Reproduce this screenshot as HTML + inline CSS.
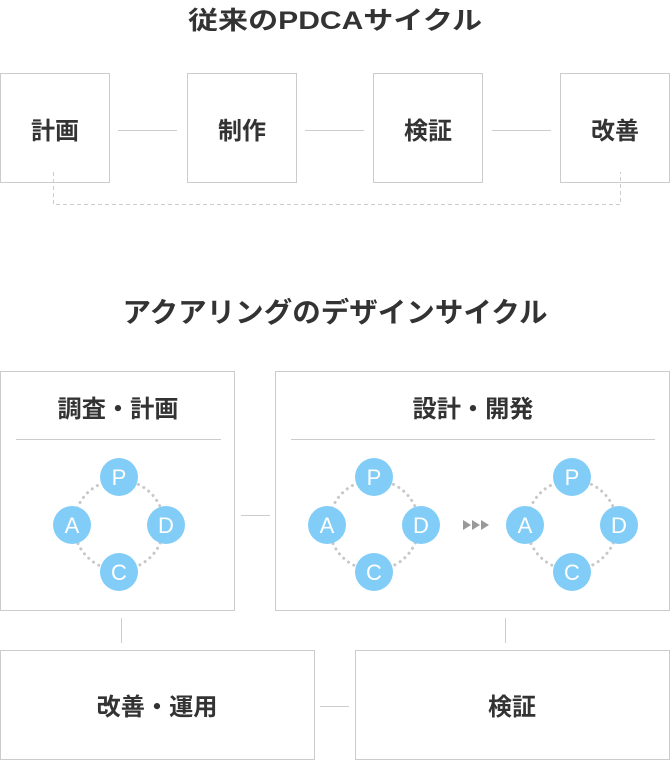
<!DOCTYPE html>
<html><head><meta charset="utf-8"><style>
html,body{margin:0;padding:0;background:#fff;}
svg{display:block;}
text{font-family:"Liberation Sans","Noto Sans CJK JP",sans-serif;font-weight:bold;fill:#333;}
.c{fill:#fff;font-weight:normal;font-size:22px;}
</style></head><body>
<svg width="670" height="760" viewBox="0 0 670 760" xmlns="http://www.w3.org/2000/svg">
<text x="335" y="29" font-size="25" text-anchor="middle" textLength="294" lengthAdjust="spacingAndGlyphs">従来のPDCAサイクル</text>
<g fill="#fff" stroke="#ccc" stroke-width="1">
<rect x="0.5" y="73.5" width="109" height="109"/>
<rect x="187.5" y="73.5" width="109" height="109"/>
<rect x="373.5" y="73.5" width="109" height="109"/>
<rect x="560.5" y="73.5" width="109" height="109"/>
</g>
<g stroke="#ccc" stroke-width="1">
<line x1="118" y1="130.5" x2="177" y2="130.5"/>
<line x1="305" y1="130.5" x2="364" y2="130.5"/>
<line x1="492" y1="130.5" x2="551" y2="130.5"/>
</g>
<path d="M53.5 172 V204.5 H620.5 V172" fill="none" stroke="#ccc" stroke-dasharray="4,3"/>
<g font-size="24" text-anchor="middle">
<text x="55" y="139">計画</text>
<text x="242" y="139">制作</text>
<text x="428" y="139">検証</text>
<text x="615" y="139">改善</text>
</g>
<text x="335" y="322" font-size="28" text-anchor="middle" textLength="425" lengthAdjust="spacingAndGlyphs">アクアリングのデザインサイクル</text>
<g fill="#fff" stroke="#ccc" stroke-width="1">
<rect x="0.5" y="371.5" width="234" height="239"/>
<rect x="275.5" y="371.5" width="394" height="239"/>
<rect x="0.5" y="650.5" width="314" height="109"/>
<rect x="355.5" y="650.5" width="314" height="109"/>
</g>
<g stroke="#ccc" stroke-width="1">
<line x1="16" y1="439.5" x2="221" y2="439.5"/>
<line x1="291" y1="439.5" x2="655" y2="439.5"/>
<line x1="241" y1="515.5" x2="270" y2="515.5"/>
<line x1="121.5" y1="618" x2="121.5" y2="643"/>
<line x1="505.5" y1="618" x2="505.5" y2="643"/>
<line x1="320" y1="706.5" x2="349" y2="706.5"/>
</g>
<g font-size="24" text-anchor="middle">
<text x="118" y="417" textLength="121" lengthAdjust="spacingAndGlyphs">調査・計画</text>
<text x="473" y="417" textLength="121" lengthAdjust="spacingAndGlyphs">設計・開発</text>
<text x="157" y="715" textLength="121" lengthAdjust="spacingAndGlyphs">改善・運用</text>
<text x="512" y="715">検証</text>
</g>
<g id="pdca">
<circle cx="119" cy="525" r="45" fill="none" stroke="#c8c8c8" stroke-width="3" stroke-dasharray="0.1,6" stroke-linecap="round"/>
<g fill="#81cdf8">
<circle cx="119" cy="477" r="19"/><circle cx="72" cy="525" r="19"/>
<circle cx="166" cy="525" r="19"/><circle cx="119" cy="572" r="19"/>
</g>
<text class="c" x="119" y="485" text-anchor="middle">P</text>
<text class="c" x="72" y="533" text-anchor="middle">A</text>
<text class="c" x="166" y="533" text-anchor="middle">D</text>
<text class="c" x="119" y="580" text-anchor="middle">C</text>
</g>
<use href="#pdca" x="255" y="0"/>
<use href="#pdca" x="453" y="0"/>
<g fill="#999">
<polygon points="463,520 471,525 463,530"/>
<polygon points="472,520 480,525 472,530"/>
<polygon points="481,520 489,525 481,530"/>
</g>
</svg>
</body></html>
